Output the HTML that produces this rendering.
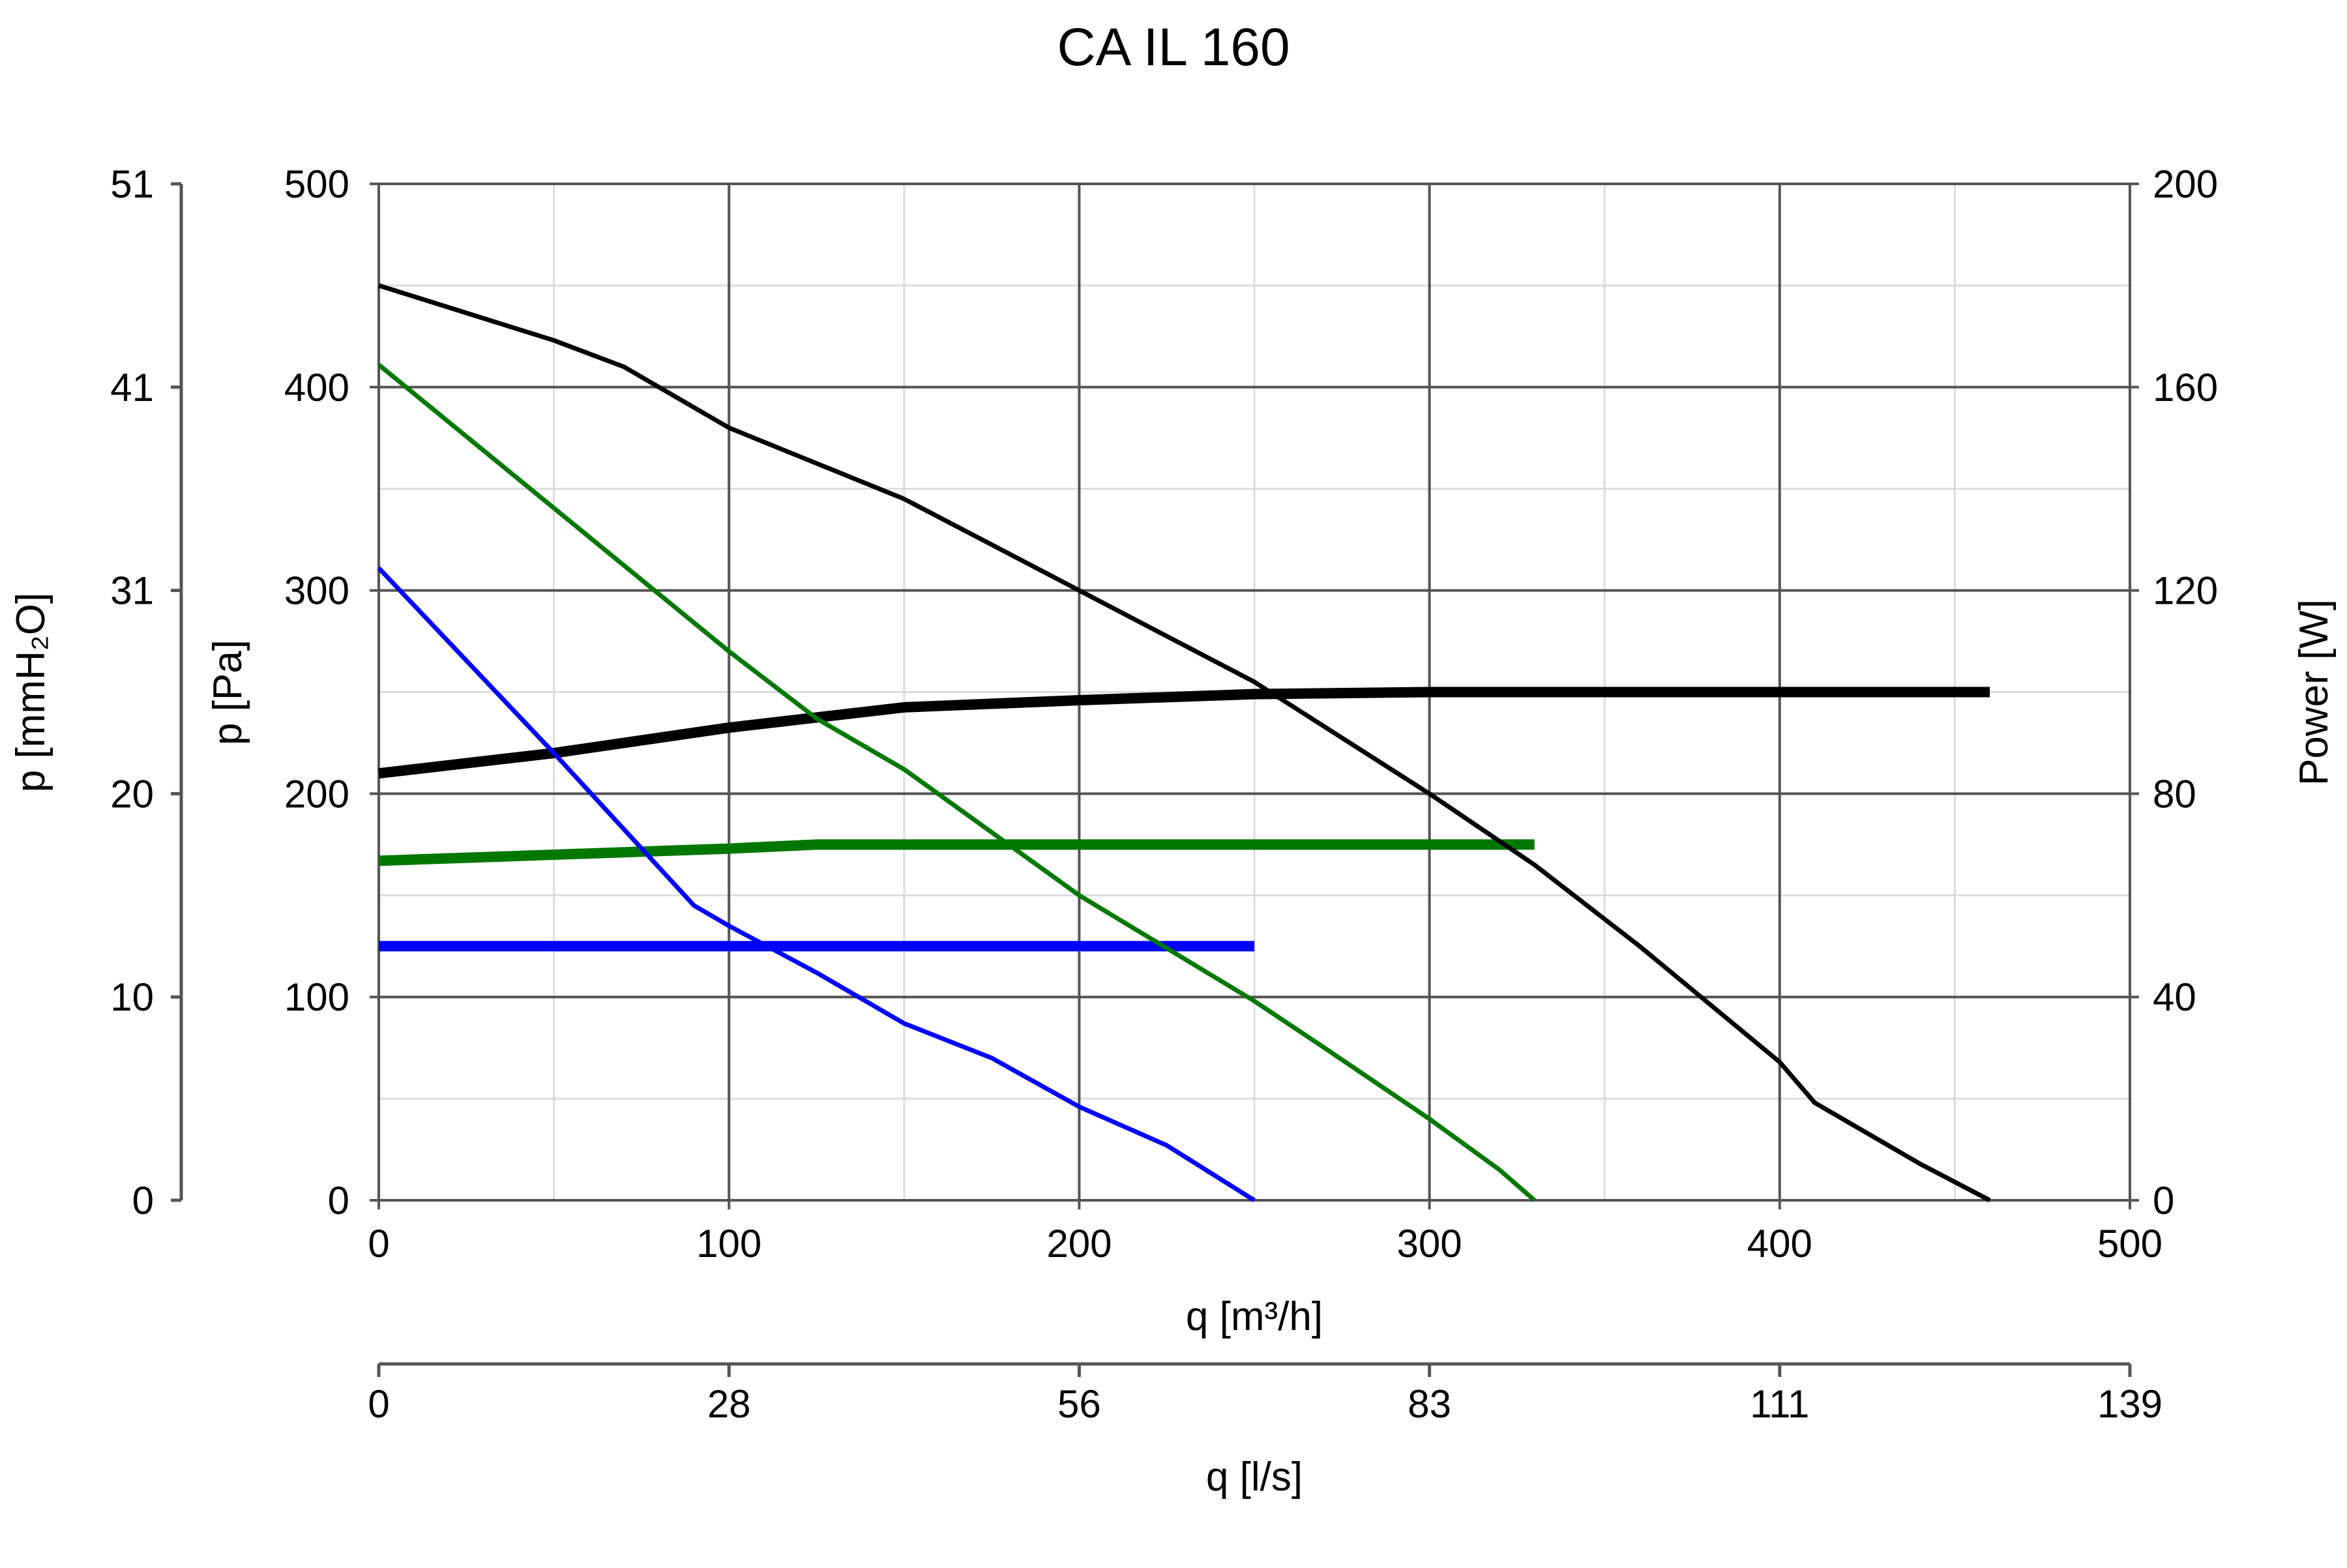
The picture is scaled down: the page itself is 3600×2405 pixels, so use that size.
<!DOCTYPE html>
<html><head><meta charset="utf-8"><style>
html,body{margin:0;padding:0;background:#fff}
svg text{font-family:"Liberation Sans",Arial,sans-serif;fill:#000}
</style></head><body>
<svg id="chart" xmlns="http://www.w3.org/2000/svg" width="3600" height="2400" viewBox="0 0 3600 2400">
<rect width="3600" height="2400" fill="#fff"/>
<text x="1800" y="100" font-size="82" text-anchor="middle">CA IL 160</text>
<g id="grid"></g>
<g id="axes"></g>
<g id="series"></g>
<text x="1924" y="2040" font-size="62" text-anchor="middle">q [m³/h]</text>
<text x="1924" y="2286" font-size="62" text-anchor="middle">q [l/s]</text>
<text transform="translate(370,1062) rotate(-90)" font-size="62" text-anchor="middle">p [Pa]</text>
<text transform="translate(68,1062) rotate(-90)" font-size="62" text-anchor="middle">p [mmH₂O]</text>
<text transform="translate(3570,1062) rotate(-90)" font-size="62" text-anchor="middle">Power [W]</text>
</svg>
<script>
const qTicks=[0,100,200,300,400,500];
const paTicks=[0,100,200,300,400,500];
const mmTickLabels=["0","10","20","31","41","51"];
const wTickLabels=["0","40","80","120","160","200"];
const lsTickLabels=["0","28","56","83","111","139"];
const blackQ=[0,50,70,100,150,200,250,300,330,360,400,410,440,460];
const blackP=[450,423,410,380,345,300,255,200,165,125,68,48,18,0];
const blackPowQ=[0,50,100,150,200,250,300,460];
const blackPowW=[84,88,93,97,98.4,99.6,100,100];
const greenQ=[0,100,125,150,200,250,270,300,320,330];
const greenP=[411,270,237,212,150,98,75,40,15,0];
const greenPowQ=[0,50,100,125,330];
const greenPowW=[66.8,68,69.2,70,70];
const blueQ=[0,50,90,100,125,150,175,200,225,250];
const blueP=[311,220,145,135,112,87,70,46,27,0];
const bluePowQ=[0,250];
const bluePowW=[50,50];

const L=581,R=3267,T=282,B=1841;
const NS="http://www.w3.org/2000/svg";
const X=q=>L+(R-L)*q/500;
const Y=p=>B-(B-T)*p/500;
const YW=w=>B-(B-T)*w/200;
function mk(tag,attrs,parent){const e=document.createElementNS(NS,tag);for(const k in attrs)e.setAttribute(k,attrs[k]);document.getElementById(parent).appendChild(e);return e;}
// minor grid
for(let v=50;v<500;v+=100){
 let a=mk('line',{x1:X(v),x2:X(v),y1:T,y2:B,stroke:'#dcdcdc','stroke-width':3},'grid');
 
 
 let b=mk('line',{x1:L,x2:R,y1:Y(v),y2:Y(v),stroke:'#dcdcdc','stroke-width':3},'grid');
 
 
}
qTicks.forEach((v,i)=>{
 let a=mk('line',{x1:X(v),x2:X(v),y1:T,y2:B+14,stroke:'#555','stroke-width':4},'grid');
 
 
 let t=mk('text',{x:X(v),y:1928,'font-size':60,'text-anchor':'middle'},'axes');t.textContent=v;
 
 
 let k=mk('line',{x1:X(v),x2:X(v),y1:2092,y2:2112,stroke:'#555','stroke-width':5},'axes');
 
 
 let t2=mk('text',{x:X(v),y:2174,'font-size':60,'text-anchor':'middle'},'axes');t2.textContent=lsTickLabels[i];
 
 
});
paTicks.forEach((v,i)=>{
 let a=mk('line',{x1:L-14,x2:R+14,y1:Y(v),y2:Y(v),stroke:'#555','stroke-width':4},'grid');
 
 
 let t=mk('text',{x:536,y:Y(v)+21,'font-size':60,'text-anchor':'end'},'axes');t.textContent=v;
 
 
 let t2=mk('text',{x:236,y:Y(v)+21,'font-size':60,'text-anchor':'end'},'axes');t2.textContent=mmTickLabels[i];
 
 
 let k=mk('line',{x1:262,x2:278,y1:Y(v),y2:Y(v),stroke:'#555','stroke-width':5},'axes');
 
 
 let t3=mk('text',{x:3302,y:Y(v)+21,'font-size':60,'text-anchor':'start'},'axes');t3.textContent=wTickLabels[i];
 
 
});
let ax1=mk('line',{x1:278,x2:278,y1:T,y2:B,stroke:'#555','stroke-width':5},'axes');


let ax2=mk('line',{x1:L,x2:R,y1:2092,y2:2092,stroke:'#555','stroke-width':5},'axes');


function poly(qs,vs,yf,color,w,name){
 const pts=qs.map((q,i)=>X(q)+','+yf(vs[i])).join(' ');
 const p=mk('polyline',{points:pts,fill:'none',stroke:color,'stroke-width':w,'stroke-linejoin':'round'},'series');
 
 
}
poly(blackPowQ,blackPowW,YW,'#000',16,'black-power-curve');
poly(greenPowQ,greenPowW,YW,'#007800',16,'green-power-curve');
poly(bluePowQ,bluePowW,YW,'#0000ff',16,'blue-power-curve');
poly(blackQ,blackP,Y,'#000',7,'black-pressure-curve');
poly(greenQ,greenP,Y,'#007800',7,'green-pressure-curve');
poly(blueQ,blueP,Y,'#0000ff',7,'blue-pressure-curve');
</script>
</body></html>
